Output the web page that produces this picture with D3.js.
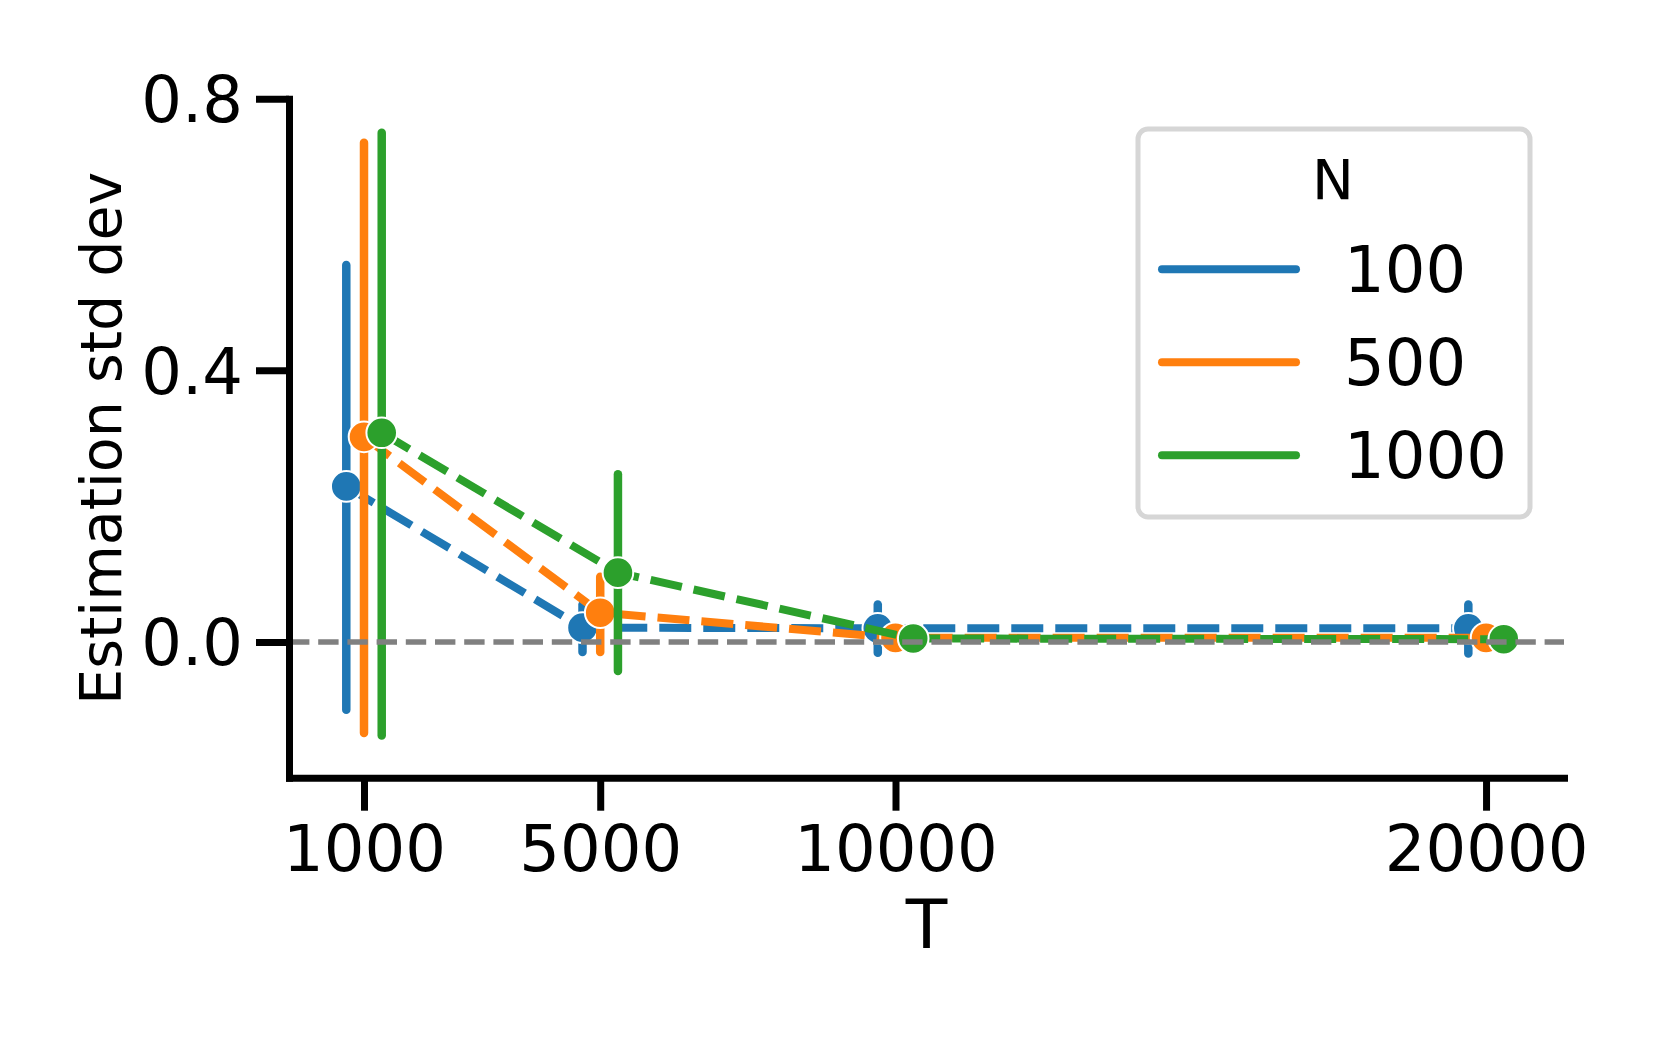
<!DOCTYPE html>
<html>
<head>
<meta charset="utf-8">
<script src="https://cdn.jsdelivr.net/npm/d3@7"></script>
<style>
  html, body { margin: 0; padding: 0; background: #fff; }
  text { font-family: "DejaVu Sans", sans-serif; fill: #000; }
</style>
</head>
<body>
<svg id="chart"></svg>
<script>
// values
const tValues = [1000, 5000, 10000, 20000];
const nLabels = ["100", "500", "1000"];
const yTicks = [0, 0.4, 0.8];

const mean100 = [0.229, 0.021, 0.020, 0.020];
const low100 = [-0.100, -0.015, -0.016, -0.017];
const high100 = [0.555, 0.055, 0.055, 0.055];

const mean500 = [0.302, 0.043, 0.006, 0.006];
const low500 = [-0.134, -0.015, 0.000, 0.000];
const high500 = [0.735, 0.096, 0.012, 0.012];

const mean1000 = [0.308, 0.102, 0.005, 0.004];
const low1000 = [-0.138, -0.043, -0.001, -0.001];
const high1000 = [0.750, 0.247, 0.011, 0.010];

const series = [
  { name: nLabels[0], mean: mean100, low: low100, high: high100, color: "#1f77b4", dodge: -300 },
  { name: nLabels[1], mean: mean500, low: low500, high: high500, color: "#ff7f0e", dodge: 0 },
  { name: nLabels[2], mean: mean1000, low: low1000, high: high1000, color: "#2ca02c", dodge: 300 },
];

const width = 1661, height = 1038;
const plot = { left: 289, right: 1564, top: 98.7, bottom: 777.7 };

const svg = d3.select("#chart").attr("width", width).attr("height", height);

// Scales
const x = d3.scaleLinear().domain([-270, 21320]).range([plot.left, plot.right]);
const y = d3.scaleLinear().domain([-0.2, 0.8]).range([plot.bottom, plot.top]);

// Series: error bars, dashed line, markers
series.forEach((s) => {
  const pts = tValues.map((t, i) => ({ t: t + s.dodge, m: s.mean[i], lo: s.low[i], hi: s.high[i] }));
  const g = svg.append("g");

  g.selectAll("line.err")
    .data(pts)
    .enter()
    .append("line")
    .attr("x1", (d) => x(d.t))
    .attr("x2", (d) => x(d.t))
    .attr("y1", (d) => y(d.lo))
    .attr("y2", (d) => y(d.hi))
    .attr("stroke", s.color)
    .attr("stroke-width", 8.5)
    .attr("stroke-linecap", "round");

  const line = d3.line().x((d) => x(d.t)).y((d) => y(d.m));
  g.append("path")
    .datum(pts)
    .attr("fill", "none")
    .attr("stroke", s.color)
    .attr("stroke-width", 8)
    .attr("stroke-dasharray", "32 12")
    .attr("d", line);

  g.selectAll("circle")
    .data(pts)
    .enter()
    .append("circle")
    .attr("cx", (d) => x(d.t))
    .attr("cy", (d) => y(d.m))
    .attr("r", 15.3)
    .attr("fill", s.color)
    .attr("stroke", "#fff")
    .attr("stroke-width", 2);
});

// zero reference line
svg.append("line")
  .attr("x1", plot.left)
  .attr("x2", plot.right)
  .attr("y1", y(0))
  .attr("y2", y(0))
  .attr("stroke", "#808080")
  .attr("stroke-width", 5.5)
  .attr("stroke-dasharray", "20.4 8.8");

// Axes
const xAxis = svg.append("g")
  .attr("transform", `translate(0,${plot.bottom})`)
  .call(d3.axisBottom(x).tickValues(tValues).tickFormat(d3.format("d")).tickSize(33).tickSizeOuter(0).tickPadding(12));

const yAxis = svg.append("g")
  .attr("transform", `translate(${plot.left},0)`)
  .call(d3.axisLeft(y).tickValues(yTicks).tickFormat(d3.format(".1f")).tickSize(33).tickSizeOuter(0).tickPadding(13));

[xAxis, yAxis].forEach((ax) => {
  ax.select(".domain").attr("stroke", "#000").attr("stroke-width", 7).attr("stroke-linecap", "square");
  ax.selectAll(".tick line").attr("stroke", "#000").attr("stroke-width", 7);
  ax.selectAll(".tick text").style("font-size", "64px").attr("fill", "#000");
});
xAxis.selectAll(".tick text").attr("dy", "0.76em");
yAxis.selectAll(".tick text").attr("dy", "0.36em");

// Axis labels
svg.append("text")
  .attr("x", (plot.left + plot.right) / 2)
  .attr("y", 948)
  .attr("text-anchor", "middle")
  .style("font-size", "68px")
  .text("T");

svg.append("text")
  .attr("transform", "rotate(-90)")
  .attr("x", -(plot.top + plot.bottom) / 2)
  .attr("y", 121)
  .attr("text-anchor", "middle")
  .style("font-size", "57px")
  .text("Estimation std dev");

// Legend
const legend = svg.append("g");
legend.append("rect")
  .attr("x", 1138)
  .attr("y", 129)
  .attr("width", 392)
  .attr("height", 388)
  .attr("rx", 10)
  .attr("fill", "#fff")
  .attr("fill-opacity", 0.8)
  .attr("stroke", "#d6d6d6")
  .attr("stroke-width", 5);

legend.append("text")
  .attr("x", 1333)
  .attr("y", 199)
  .attr("text-anchor", "middle")
  .style("font-size", "56px")
  .text("N");

const items = legend.selectAll("g.item")
  .data(series)
  .enter()
  .append("g")
  .attr("transform", (d, i) => `translate(0,${269.3 + i * 93})`);

items.append("line")
  .attr("x1", 1162)
  .attr("x2", 1296)
  .attr("stroke", (d) => d.color)
  .attr("stroke-width", 8)
  .attr("stroke-linecap", "round");

items.append("text")
  .attr("x", 1344)
  .attr("y", 22.5)
  .style("font-size", "64px")
  .text((d) => d.name);
</script>
</body>
</html>
